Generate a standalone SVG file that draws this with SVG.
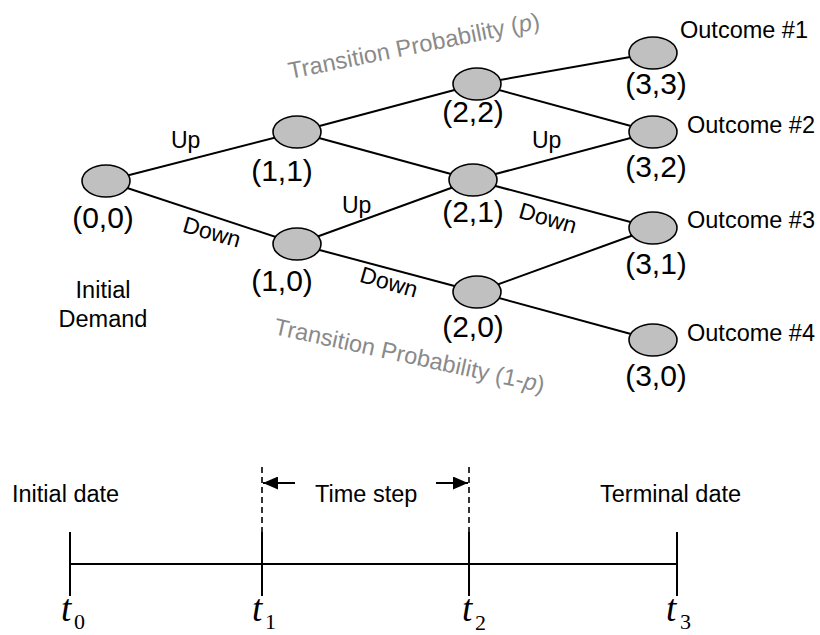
<svg xmlns="http://www.w3.org/2000/svg" width="820" height="635" viewBox="0 0 820 635">
<defs>
<style>
.e{stroke:#000;stroke-width:2;fill:none}
.n ellipse{fill:#c0c0c0;stroke:#000;stroke-width:1.6}
.lb{font-family:"Liberation Sans",Arial,sans-serif;font-size:30px;fill:#000;text-anchor:middle}
.oc{font-family:"Liberation Sans",Arial,sans-serif;font-size:23.5px;fill:#000}
.ud{font-family:"Liberation Sans",Arial,sans-serif;font-size:23px;fill:#000}
.gr{font-family:"Liberation Sans",Arial,sans-serif;font-size:23.5px;fill:#8a8a8a}
.tx{font-family:"Liberation Sans",Arial,sans-serif;font-size:23.5px;fill:#000}
.tt{font-family:"Liberation Serif","Times New Roman",serif;font-style:italic;font-size:37px;fill:#000}
.ts{font-family:"Liberation Serif","Times New Roman",serif;font-size:22px;fill:#000}
.tl{stroke:#000;stroke-width:2;fill:none}
.dash{stroke:#000;stroke-width:1.6;stroke-dasharray:6,4;fill:none}
</style>
<marker id="ah" viewBox="0 0 15 13" refX="15" refY="6.5" markerWidth="16" markerHeight="13" markerUnits="userSpaceOnUse" orient="auto">
<path d="M0,0 L15,6.5 L0,13 Z" fill="#000"/>
</marker>
</defs>
<rect width="820" height="635" fill="#fff"/>

<g id="connectors">
<line class="e" x1="106" y1="181" x2="297" y2="132"/>
<line class="e" x1="106" y1="181" x2="297" y2="244"/>
<line class="e" x1="297" y1="132" x2="477" y2="84"/>
<line class="e" x1="297" y1="132" x2="473" y2="180"/>
<line class="e" x1="297" y1="244" x2="473" y2="180"/>
<line class="e" x1="297" y1="244" x2="477" y2="292"/>
<line class="e" x1="477" y1="84" x2="653" y2="53"/>
<line class="e" x1="477" y1="84" x2="653" y2="132"/>
<line class="e" x1="473" y1="180" x2="653" y2="132"/>
<line class="e" x1="473" y1="180" x2="653" y2="228"/>
<line class="e" x1="477" y1="292" x2="653" y2="228"/>
<line class="e" x1="477" y1="292" x2="653" y2="340"/>
<text class="ud" x="171" y="148">Up</text>
<text class="ud" x="342" y="213">Up</text>
<text class="ud" x="532" y="148">Up</text>
<text class="ud" transform="translate(212,232) rotate(16)" x="0" y="8" text-anchor="middle">Down</text>
<text class="ud" transform="translate(389,282) rotate(16)" x="0" y="8" text-anchor="middle">Down</text>
<text class="ud" transform="translate(548,218) rotate(16)" x="0" y="8" text-anchor="middle">Down</text>
</g>

<g id="n00" class="n"><ellipse cx="106" cy="181" rx="24" ry="16"/><text class="lb" x="103" y="228">(0,0)</text></g>
<g id="n11" class="n"><ellipse cx="297" cy="132" rx="24" ry="16"/><text class="lb" x="282" y="181">(1,1)</text></g>
<g id="n10" class="n"><ellipse cx="297" cy="244" rx="24" ry="16"/><text class="lb" x="282" y="291">(1,0)</text></g>
<g id="n22" class="n"><ellipse cx="477" cy="84" rx="24" ry="16"/><text class="lb" x="473" y="122">(2,2)</text></g>
<g id="n21" class="n"><ellipse cx="473" cy="180" rx="24" ry="16"/><text class="lb" x="473" y="222">(2,1)</text></g>
<g id="n20" class="n"><ellipse cx="477" cy="292" rx="24" ry="16"/><text class="lb" x="473" y="337">(2,0)</text></g>
<g id="n33" class="n"><ellipse cx="653" cy="53" rx="24" ry="16"/><text class="lb" x="656" y="94">(3,3)</text><text class="oc" x="680" y="38">Outcome #1</text></g>
<g id="n32" class="n"><ellipse cx="653" cy="132" rx="24" ry="16"/><text class="lb" x="656" y="177">(3,2)</text><text class="oc" x="687" y="133">Outcome #2</text></g>
<g id="n31" class="n"><ellipse cx="653" cy="228" rx="24" ry="16"/><text class="lb" x="656" y="274">(3,1)</text><text class="oc" x="687" y="228">Outcome #3</text></g>
<g id="n30" class="n"><ellipse cx="653" cy="340" rx="24" ry="16"/><text class="lb" x="656" y="386">(3,0)</text><text class="oc" x="687" y="341">Outcome #4</text></g>

<g id="labels">
<text class="tx" x="103" y="298" text-anchor="middle">Initial</text>
<text class="tx" x="103" y="327" text-anchor="middle">Demand</text>
<text class="gr" transform="translate(290,79) rotate(-11.4)" x="0" y="0" textLength="256" lengthAdjust="spacing">Transition Probability (<tspan font-style="italic">p</tspan>)</text>
<text class="gr" transform="translate(273,334) rotate(12.3)" x="0" y="0" textLength="276" lengthAdjust="spacing">Transition Probability (1-<tspan font-style="italic">p</tspan>)</text>
</g>

<g id="timeline">
<line class="tl" x1="70" y1="564" x2="677" y2="564"/>
<line class="tl" x1="70" y1="532" x2="70" y2="596"/>
<line class="tl" x1="262" y1="532" x2="262" y2="596"/>
<line class="tl" x1="469" y1="532" x2="469" y2="596"/>
<line class="tl" x1="677" y1="532" x2="677" y2="596"/>
<line class="dash" x1="262" y1="467" x2="262" y2="532"/>
<line class="dash" x1="469" y1="467" x2="469" y2="532"/>
<line class="tl" x1="295" y1="483" x2="263" y2="483" stroke-width="3" marker-end="url(#ah)"/>
<line class="tl" x1="436" y1="483" x2="468" y2="483" stroke-width="3" marker-end="url(#ah)"/>
<text class="tx" x="12" y="502">Initial date</text>
<text class="tx" x="315" y="502">Time step</text>
<text class="tx" x="600" y="502">Terminal date</text>
<text class="tt" x="61" y="621">t</text><text class="ts" x="74" y="629">0</text>
<text class="tt" x="252" y="621">t</text><text class="ts" x="265" y="629">1</text>
<text class="tt" x="462" y="621">t</text><text class="ts" x="475" y="630">2</text>
<text class="tt" x="666" y="621">t</text><text class="ts" x="680" y="629">3</text>
</g>
</svg>
